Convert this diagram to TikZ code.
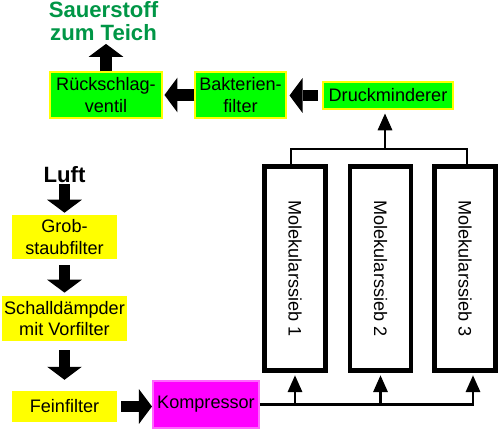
\documentclass[tikz,border=0pt]{standalone}
\usepackage{fontspec}
\setmainfont{Liberation Sans}
\usetikzlibrary{arrows.meta,calc}
\definecolor{boxgreen}{RGB}{0,255,0}
\definecolor{boxyellow}{RGB}{255,255,0}
\definecolor{boxmag}{RGB}{255,0,255}
\definecolor{titlegreen}{RGB}{0,150,70}
\begin{document}
\begin{tikzpicture}[x=0.02cm,y=-0.02cm,
  box/.style={inner sep=0pt, align=center, font=\fontsize{10.3}{12}\selectfont},
  gbox/.style={box, fill=boxgreen, draw=boxyellow, line width=0.6pt},
  ybox/.style={box, fill=boxyellow},
  mbox/.style={box, fill=boxmag, draw=boxmag!60, line width=0.6pt},
  sieve/.style={draw=black, line width=2.8pt, fill=white, minimum width=1.22cm, minimum height=4.08cm, inner sep=0pt},
  sievelabel/.style={rotate=-90, inner sep=0pt, font=\fontsize{10.3}{12}\selectfont},
  title/.style={inner sep=0pt, align=center, font=\bfseries\fontsize{12.6}{13}\selectfont},
  blockarrow/.style={line width=6.8pt, -{Triangle[width=19.8pt,length=7.4pt,line width=0pt]}},
  pipe/.style={line width=1.2pt},
  pipearrow/.style={pipe, -{Triangle[width=8.5pt,length=9.5pt,line width=0pt]}},
]
\useasboundingbox (0,0) rectangle (500,429);

% top row
\node[title, text=titlegreen] (sauer) at (103.5,21) {Sauerstoff\\zum Teich};
\node[gbox, minimum width=2.24cm, minimum height=0.92cm] (rueck) at (106,95) {Rückschlag-\\ventil};
\node[gbox, minimum width=1.82cm, minimum height=0.92cm] (bakt) at (240.5,95) {Bakterien-\\filter};
\node[gbox, minimum width=2.6cm, minimum height=0.54cm] (druck) at (388,95.5) {Druckminderer};

% left column
\node[title] (luft) at (64.5,174.5) {Luft};
\node[ybox, minimum width=2.1cm, minimum height=0.88cm] (grob) at (64.5,237) {Grob-\\staubfilter};
\node[ybox, minimum width=2.52cm, minimum height=0.9cm] (schall) at (64.5,318.5) {Schalldämpder\\mit Vorfilter};
\node[ybox, minimum width=2.1cm, minimum height=0.62cm] (fein) at (64.5,406.5) {Feinfilter};
\node[mbox, minimum width=2.12cm, minimum height=0.94cm] (komp) at (206,404.5) {Kompressor};

% sieves
\coordinate (top) at (385,149);
\coordinate (c3) at (473,406);
\draw[pipe] (291,166) |- (top) -| (467,166);
\node[sieve] (s1) at (295,268.5) {};
\node[sieve] (s2) at (380.5,268.5) {};
\node[sieve] (s3) at (465,268.5) {};
\node[sievelabel] (l1) at (s1) {Molekularssieb 1};
\node[sievelabel] (l2) at (s2) {Molekularssieb 2};
\node[sievelabel] (l3) at (s3) {Molekularssieb 3};

% pipes
\draw[pipearrow, shorten >=2.3pt] (top) -- (top |- druck.south);
\draw[pipearrow, shorten >=1.4pt] (komp.east) -| (c3 |- s3.south);
\draw[pipearrow, shorten >=1.4pt] (s1.south |- komp.east) -- (s1.south);
\draw[pipearrow, shorten >=1.4pt] (s2.south |- komp.east) -- (s2.south);

% block arrows
\draw[blockarrow, shorten >=1.7pt] (rueck.north) -- (rueck.north |- sauer.south);
\draw[blockarrow, shorten >=1.1pt] (bakt.west) -- (bakt.west -| rueck.east);
\draw[blockarrow, shorten <=2.8pt, shorten >=1.7pt] (druck.west) -- (druck.west -| bakt.east);
\draw[blockarrow, shorten <=0.5pt, shorten >=1.1pt] (luft.south) -- (grob.north);
\draw[blockarrow, shorten <=3.4pt, shorten >=1.7pt] (grob.south) -- (schall.north);
\draw[blockarrow, shorten <=5.1pt, shorten >=6.2pt] (schall.south) -- (fein.north);
\draw[blockarrow, shorten <=2.3pt, shorten >=0.3pt] (fein.east) -- (fein.east -| komp.west);
\end{tikzpicture}
\end{document}
